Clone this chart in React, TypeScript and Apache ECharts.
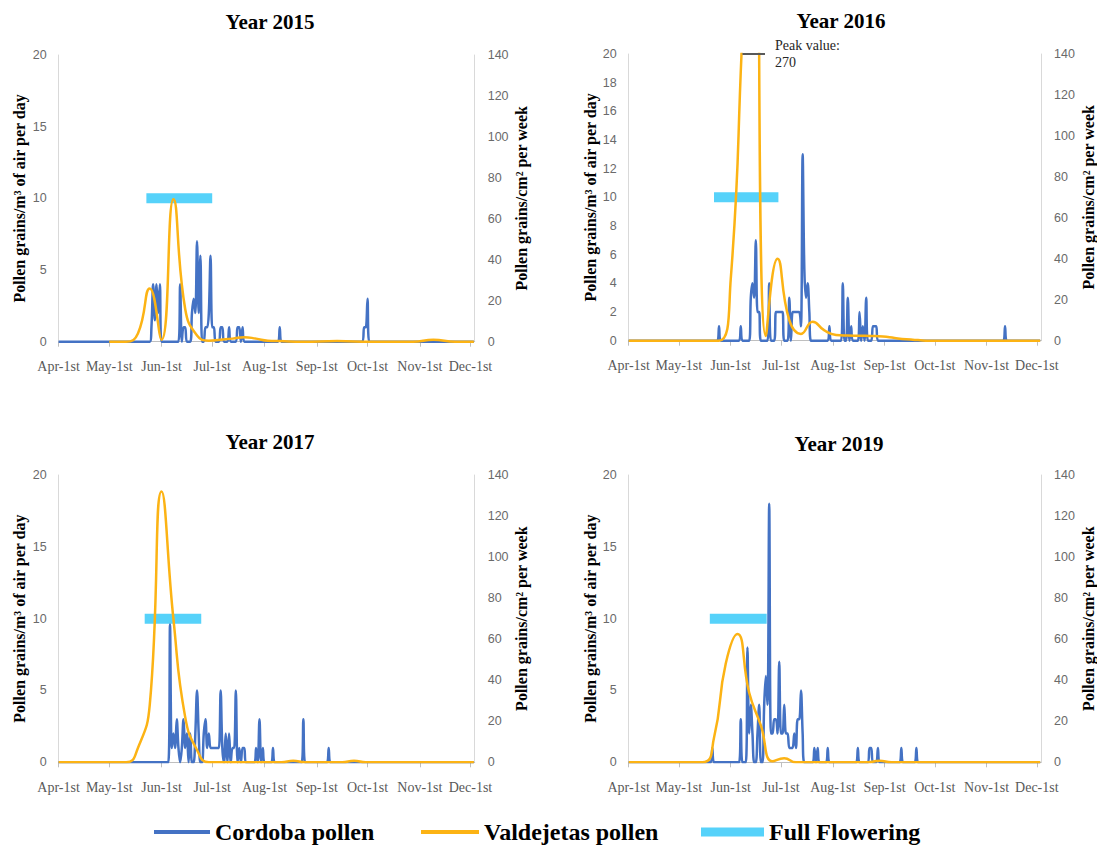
import React, { useEffect, useRef } from 'react';
import * as echarts from 'echarts';

// ---------- DATA ----------
const monthDays = [0, 30, 61, 91, 122, 153, 183, 214, 244];
const monthLabels = ['Apr-1st', 'May-1st', 'Jun-1st', 'Jul-1st', 'Aug-1st', 'Sep-1st', 'Oct-1st', 'Nov-1st', 'Dec-1st'];
const yearTitles = ['Year 2015', 'Year 2016', 'Year 2017', 'Year 2019'];
const leftTickInterval = [5, 2, 5, 5];

// Cordoba daily pollen (day index from Apr-1st, grains/m3)
const cordoba2015: number[][] = [
  [0, 0], [54, 0], [55, 1], [56, 4], [57, 1.5], [58, 4], [59, 2], [60, 4], [61, 0],
  [71, 0], [72, 4], [73, 0], [74, 1], [75, 1], [76, 0],
  [78, 0], [79, 2], [80, 3], [81, 2], [82, 7], [83, 2], [84, 6], [85, 0], [86, 0], [87, 1], [88, 1], [89, 2], [90, 6], [91, 1], [92, 1], [93, 0],
  [95, 0], [96, 1], [97, 1], [98, 0], [100, 0], [101, 1], [102, 0], [105, 0], [106, 1], [107, 1], [108, 0], [109, 1], [110, 0],
  [130, 0], [131, 1], [132, 0], [180, 0], [181, 1], [182, 1], [183, 3], [184, 0], [246, 0],
];
const cordoba2016: number[][] = [
  [0, 0], [53, 0], [54, 1], [55, 0], [66, 0], [67, 1], [68, 0],
  [72, 0], [73, 3], [74, 4], [75, 3], [76, 7], [77, 2], [78, 2], [79, 0], [83, 0], [84, 4], [85, 0],
  [87, 0], [88, 2], [89, 2], [90, 2], [91, 2], [92, 2], [93, 0], [95, 0], [96, 3], [97, 0],
  [98, 2], [99, 2], [100, 2], [101, 2], [102, 2], [103, 1], [104, 13], [105, 5], [106, 3], [107, 4], [108, 2], [109, 0],
  [119, 0], [120, 1], [121, 0], [127, 0], [128, 4], [129, 0], [130, 0], [131, 3], [132, 0], [133, 1], [134, 0],
  [137, 0], [138, 2], [139, 0], [140, 1], [141, 0], [142, 3], [143, 0], [145, 0], [146, 1], [147, 1], [148, 1], [149, 0],
  [224, 0], [225, 1], [226, 0], [246, 0],
];
const cordoba2017: number[][] = [
  [0, 0], [65, 0], [66, 9.6], [67, 1], [68, 2], [69, 1], [70, 3], [71, 1], [72, 0], [73, 1], [74, 3], [75, 1], [76, 2], [77, 0],
  [78, 2], [79, 0], [80, 0], [81, 2], [82, 5], [83, 2], [84, 0], [85, 0], [86, 2], [87, 3], [88, 1], [89, 2],
  [90, 1], [91, 1], [92, 1], [93, 1], [94, 1], [95, 1], [96, 5], [97, 1], [98, 0], [99, 2], [100, 0], [101, 2], [102, 0],
  [103, 1], [104, 1], [105, 5], [106, 0], [107, 1], [108, 0], [109, 1], [110, 1], [111, 0],
  [116, 0], [117, 1], [118, 0], [119, 3], [120, 0], [121, 1], [122, 0], [126, 0], [127, 1], [128, 0],
  [144, 0], [145, 3], [146, 0], [159, 0], [160, 1], [161, 0], [246, 0],
];
const cordoba2019: number[][] = [
  [0, 0], [49, 0], [50, 1], [51, 0], [66, 0], [67, 3], [68, 0], [70, 0], [71, 8], [72, 2], [73, 4], [74, 2], [75, 0], [76, 0],
  [77, 2], [78, 4], [79, 0], [80, 0], [81, 4], [82, 6], [83, 4], [84, 18], [85, 2], [86, 2], [87, 3], [88, 3], [89, 2],
  [90, 7], [91, 2], [92, 2], [93, 4], [94, 2], [95, 2], [96, 1], [97, 1], [98, 1], [99, 2], [100, 1], [101, 3], [102, 3],
  [103, 5], [104, 2], [105, 0], [110, 0], [111, 1], [112, 0], [113, 1], [114, 0], [118, 0], [119, 1], [120, 0],
  [136, 0], [137, 1], [138, 0], [143, 0], [144, 1], [145, 1], [146, 0], [148, 0], [149, 1], [150, 0],
  [162, 0], [163, 1], [164, 0], [171, 0], [172, 1], [173, 0], [246, 0],
];

// Valdejetas weekly pollen (grains/cm2 per week)
const peakValue2016 = 270;
const valdejetas2015: number[][] = [
  [30, 0], [40, 0], [47, 4], [54, 26], [61, 1], [68, 69.5], [75, 16], [82, 3], [89, 0.5], [96, 1], [103, 1.5],
  [110, 2.2], [117, 1.5], [124, 0.5], [131, 0.3], [145, 0], [165, 0.3], [185, 0], [210, 0], [222, 1], [235, 0], [246, 0],
];
const valdejetas2016: number[][] = [
  [0, 0], [54, 0], [61, 30], [68, 150], [75, peakValue2016], [82, 2.3], [89, 40], [96, 10], [103, 3.3], [110, 9.3],
  [117, 5], [124, 2.8], [131, 2.5], [138, 2.4], [145, 2.3], [152, 2], [159, 1.3], [166, 0.7], [173, 0.3], [180, 0], [246, 0],
];
const valdejetas2017: number[][] = [
  [0, 0], [40, 0], [47, 7], [54, 28], [61, 132], [68, 70], [75, 22], [82, 6], [89, 0], [132, 0], [139, 0.8], [146, 0],
  [168, 0], [175, 0.8], [182, 0], [246, 0],
];
const valdejetas2019: number[][] = [
  [0, 0], [44, 0], [51, 12], [58, 48], [65, 62.5], [72, 34], [79, 18], [86, 0.5], [93, 2], [100, 0], [143, 0], [150, 0.8],
  [157, 0], [246, 0],
];

// Full flowering period (start day, end day) at level 10
const floweringLevel = 10;
const flowering2015 = [52, 91];
const flowering2016 = [51, 89.5];
const flowering2017 = [51, 84.5];
const flowering2019 = [48.5, 82.5];

const cordobaAll = [cordoba2015, cordoba2016, cordoba2017, cordoba2019];
const valdejetasAll = [valdejetas2015, valdejetas2016, valdejetas2017, valdejetas2019];
const floweringAll = [flowering2015, flowering2016, flowering2017, flowering2019];

// ---------- STYLE / LAYOUT ----------
const BLUE = '#4472C4';
const ORANGE = '#FCB314';
const CYAN = '#56D2FA';
const SERIF = '"Liberation Serif", "Times New Roman", serif';
const SANS = '"Liberation Sans", Arial, sans-serif';

const grids = [
  { left: 58.6, top: 55, width: 416.1, height: 286.7, titleX: 270, titleY: 21.5 },
  { left: 628.7, top: 54, width: 417.5, height: 286.7, titleX: 841, titleY: 20.5 },
  { left: 58.6, top: 475, width: 416.1, height: 287.3, titleX: 270, titleY: 442 },
  { left: 628.7, top: 475, width: 417.5, height: 287.3, titleX: 839, titleY: 444 },
];

function buildOption() {
  const xAxis: any[] = [];
  const yAxis: any[] = [];
  const series: any[] = [];
  const graphic: any[] = [];

  grids.forEach((g, i) => {
    xAxis.push({
      type: 'value',
      gridIndex: i,
      min: 0,
      max: 246.5,
      axisLine: { show: true, lineStyle: { color: '#BFBFBF', width: 1 } },
      axisTick: { show: true, customValues: monthDays, length: 5, lineStyle: { color: '#BFBFBF' } },
      axisLabel: {
        customValues: monthDays,
        formatter: (v: number) => monthLabels[monthDays.indexOf(Math.round(v))] ?? '',
        fontFamily: SERIF,
        fontSize: 14,
        color: '#595959',
        margin: 18,
      },
      splitLine: { show: false },
    });
    yAxis.push({
      type: 'value',
      gridIndex: i,
      position: 'left',
      min: 0,
      max: 20,
      interval: leftTickInterval[i],
      name: 'Pollen grains/m³ of air per day',
      nameLocation: 'middle',
      nameRotate: 90,
      nameGap: i % 2 === 0 ? 31 : 29,
      nameTextStyle: { fontFamily: SERIF, fontWeight: 'bold', fontSize: 16, color: '#000' },
      axisLine: { show: true, lineStyle: { color: '#D9D9D9', width: 1 } },
      axisTick: { show: false },
      axisLabel: { fontFamily: SANS, fontSize: 12.5, color: '#6A6A6A', margin: 12 },
      splitLine: { show: false },
    });
    yAxis.push({
      type: 'value',
      gridIndex: i,
      position: 'right',
      min: 0,
      max: 140,
      interval: 20,
      name: 'Pollen grains/cm² per week',
      nameLocation: 'middle',
      nameRotate: 90,
      nameGap: 39,
      nameTextStyle: { fontFamily: SERIF, fontWeight: 'bold', fontSize: 16, color: '#000' },
      axisLine: { show: true, lineStyle: { color: '#D9D9D9', width: 1 } },
      axisTick: { show: false },
      axisLabel: { fontFamily: SANS, fontSize: 12.5, color: '#6A6A6A', margin: 13 },
      splitLine: { show: false },
    });

    const fl = floweringAll[i];
    series.push({
      name: 'Full Flowering',
      type: 'line',
      xAxisIndex: i,
      yAxisIndex: 2 * i,
      data: [[fl[0], floweringLevel], [fl[1], floweringLevel]],
      showSymbol: false,
      symbol: 'none',
      lineStyle: { color: CYAN, width: 10, cap: 'butt' },
      itemStyle: { color: CYAN },
    });
    series.push({
      name: 'Cordoba pollen',
      type: 'line',
      xAxisIndex: i,
      yAxisIndex: 2 * i,
      data: cordobaAll[i],
      smooth: 0.35,
      showSymbol: false,
      symbol: 'none',
      lineStyle: { color: BLUE, width: 2.5 },
      itemStyle: { color: BLUE },
    });
    const orange: any = {
      name: 'Valdejetas pollen',
      type: 'line',
      xAxisIndex: i,
      yAxisIndex: 2 * i + 1,
      data: valdejetasAll[i],
      smooth: 0.5,
      clip: true,
      showSymbol: false,
      symbol: 'none',
      lineStyle: { color: ORANGE, width: 2.5 },
      itemStyle: { color: ORANGE },
    };
    if (i === 1) {
      orange.markLine = {
        silent: true,
        symbol: 'none',
        animation: false,
        lineStyle: { color: '#595959', width: 2, type: 'solid' },
        label: {
          show: true,
          position: 'end',
          distance: 10,
          formatter: 'Peak value:\n' + peakValue2016,
          fontFamily: SERIF,
          fontSize: 14,
          lineHeight: 17,
          color: '#262626',
          align: 'left',
        },
        data: [[{ coord: [68, 140] }, { coord: [81.5, 140] }]],
      };
    }
    series.push(orange);

    graphic.push({
      type: 'text',
      x: g.titleX,
      y: g.titleY,
      style: {
        text: yearTitles[i],
        fontFamily: SERIF,
        fontWeight: 'bold',
        fontSize: 21,
        fill: '#000',
        align: 'center',
        verticalAlign: 'middle',
      },
    });
  });

  const legendText = { fontFamily: SERIF, fontWeight: 'bold', fontSize: 24, color: '#000', lineHeight: 24 };
  const legendTop = 820;
  const legend = [
    { data: ['Cordoba pollen'], left: 154, top: legendTop, itemWidth: 56, itemHeight: 4, icon: 'rect', padding: 0, selectedMode: false, textStyle: legendText },
    { data: ['Valdejetas pollen'], left: 421, top: legendTop, itemWidth: 58, itemHeight: 4, icon: 'rect', padding: 0, selectedMode: false, textStyle: legendText },
    { data: ['Full Flowering'], left: 701, top: legendTop, itemWidth: 63, itemHeight: 9, icon: 'rect', padding: 0, selectedMode: false, textStyle: legendText },
  ];

  return {
    animation: false,
    backgroundColor: '#fff',
    grid: grids.map((g) => ({ left: g.left, top: g.top, width: g.width, height: g.height, containLabel: false })),
    xAxis,
    yAxis,
    series,
    legend,
    graphic,
  };
}

export default function App() {
  const ref = useRef<HTMLDivElement>(null);
  useEffect(() => {
    if (!ref.current) return;
    const chart = echarts.init(ref.current, undefined, { renderer: 'svg' });
    chart.setOption(buildOption() as any);
    return () => chart.dispose();
  }, []);
  return (
    <div
      ref={ref}
      style={{ position: 'fixed', left: 0, top: 0, width: 1097, height: 850, background: '#fff' }}
    />
  );
}
